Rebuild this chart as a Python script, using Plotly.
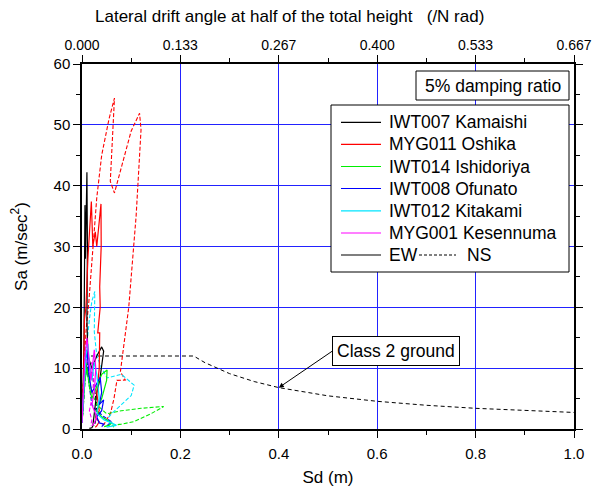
import plotly.graph_objects as go

# ---------------- data ----------------
stations = ["IWT007 Kamaishi", "MYG011 Oshika", "IWT014 Ishidoriya",
            "IWT008 Ofunato", "IWT012 Kitakami", "MYG001 Kesennuma"]
colors = ["#000000", "#ff0000", "#00ee00", "#0000ff", "#00e5ff", "#ff00ff"]

# EW components (Sd [m], Sa [m/s2])
iwt007_ew_sd = [0.0, 0.002, 0.004, 0.005, 0.006, 0.007, 0.009, 0.010, 0.011, 0.010, 0.012, 0.020, 0.030, 0.040, 0.044, 0.036, 0.030, 0.025, 0.022, 0.020, 0.015]
iwt007_ew_sa = [1.5, 6.0, 14.0, 25.0, 36.8, 28.0, 38.0, 42.2, 30.0, 18.0, 12.0, 10.0, 12.0, 13.5, 12.8, 8.0, 6.0, 2.0, 0.5, 0.2, 0.1]
iwt007_ns_sd = [0.0, 0.003, 0.006, 0.010, 0.015, 0.020, 0.025, 0.030, 0.028, 0.025]
iwt007_ns_sa = [1.0, 5.0, 9.0, 11.0, 8.0, 9.5, 7.0, 4.0, 1.5, 0.5]

myg011_ew_sd = [0.0, 0.003, 0.005, 0.008, 0.012, 0.015, 0.019, 0.022, 0.027, 0.030, 0.035, 0.0386, 0.039, 0.036, 0.037, 0.032, 0.036, 0.035, 0.030, 0.035, 0.028, 0.035, 0.030, 0.027]
myg011_ew_sa = [2.0, 8.0, 18.0, 20.0, 28.0, 32.0, 37.4, 30.0, 32.4, 30.0, 34.0, 37.0, 30.0, 23.4, 20.0, 15.8, 15.8, 10.0, 5.9, 3.0, 1.8, 1.2, 0.5, 0.3]
myg011_ns_sd = [0.0, 0.004, 0.008, 0.014, 0.020, 0.030, 0.040, 0.055, 0.066, 0.062, 0.0575, 0.066, 0.080, 0.100, 0.117, 0.120, 0.110, 0.095, 0.078, 0.088, 0.071, 0.065, 0.058, 0.050, 0.045, 0.040]
myg011_ns_sa = [3.0, 10.0, 16.0, 21.0, 28.0, 38.0, 45.0, 51.0, 54.4, 48.0, 40.7, 38.8, 43.0, 49.0, 51.9, 49.2, 35.0, 20.0, 9.4, 8.05, 8.0, 5.0, 2.6, 1.5, 0.8, 0.6]

iwt014_ew_sd = [0.0, 0.003, 0.006, 0.010, 0.015, 0.020, 0.030, 0.040, 0.051, 0.050, 0.040, 0.030, 0.040, 0.050, 0.060, 0.055, 0.045]
iwt014_ew_sa = [1.0, 4.0, 8.0, 10.0, 7.0, 5.0, 7.0, 9.0, 9.7, 8.0, 5.0, 3.0, 2.0, 1.5, 1.0, 0.6, 0.4]
iwt014_ns_sd = [0.0, 0.004, 0.008, 0.012, 0.020, 0.030, 0.050, 0.080, 0.120, 0.166, 0.140, 0.105, 0.080, 0.060, 0.065]
iwt014_ns_sa = [1.0, 5.0, 11.0, 9.0, 6.0, 4.0, 2.5, 3.0, 3.4, 3.7, 2.5, 1.2, 0.8, 0.6, 0.3]

iwt008_ew_sd = [0.0, 0.003, 0.006, 0.010, 0.014, 0.020, 0.030, 0.037, 0.040, 0.035, 0.044, 0.040, 0.030, 0.035, 0.045, 0.040]
iwt008_ew_sa = [1.0, 6.0, 11.0, 13.0, 9.0, 6.0, 7.5, 8.5, 6.0, 4.0, 4.8, 3.0, 2.0, 1.0, 0.8, 0.4]
iwt008_ns_sd = [0.0, 0.003, 0.006, 0.010, 0.015, 0.020, 0.030, 0.045, 0.060, 0.050]
iwt008_ns_sa = [1.0, 5.0, 8.0, 10.0, 7.0, 4.0, 3.0, 2.0, 1.2, 0.5]

iwt012_ew_sd = [0.0, 0.004, 0.008, 0.012, 0.016, 0.020, 0.025, 0.030, 0.035, 0.030, 0.045, 0.060, 0.070, 0.050]
iwt012_ew_sa = [1.0, 6.0, 12.0, 14.0, 10.0, 8.0, 11.0, 9.0, 5.0, 2.5, 1.5, 1.0, 0.6, 0.3]
iwt012_ns_sd = [0.0, 0.005, 0.010, 0.015, 0.020, 0.026, 0.025, 0.030, 0.040, 0.051, 0.080, 0.106, 0.100, 0.080, 0.060, 0.050, 0.060, 0.050]
iwt012_ns_sa = [1.5, 8.0, 14.0, 18.0, 21.0, 22.6, 16.0, 12.0, 10.0, 8.4, 9.0, 7.2, 5.5, 4.0, 2.5, 1.5, 1.0, 0.5]

myg001_ew_sd = [0.0, 0.003, 0.006, 0.010, 0.014, 0.018, 0.025, 0.028, 0.025, 0.020, 0.025, 0.030, 0.025, 0.020]
myg001_ew_sa = [1.0, 7.0, 12.0, 15.0, 11.0, 8.0, 13.0, 10.0, 6.0, 4.0, 3.0, 2.0, 1.0, 0.5]
myg001_ns_sd = [0.0, 0.003, 0.007, 0.012, 0.016, 0.020, 0.024, 0.020, 0.015, 0.020, 0.018]
myg001_ns_sa = [1.0, 5.0, 10.0, 13.0, 9.0, 11.0, 8.0, 5.0, 3.0, 1.5, 0.6]

# design spectrum, class 2 ground
class2_sd = [0.0, 0.008, 0.227, 0.25, 0.30, 0.35, 0.40, 0.50, 0.60, 0.70, 0.80, 0.90, 1.00]
class2_sa = [4.8, 12.0, 12.0, 10.9, 9.1, 7.8, 6.8, 5.45, 4.55, 3.9, 3.4, 3.0, 2.72]

sd_tickvals = [0.0, 0.2, 0.4, 0.6, 0.8, 1.0]
sd_ticktext = ["0.0", "0.2", "0.4", "0.6", "0.8", "1.0"]
drift_tickvals = [0.0, 0.1333, 0.2667, 0.4, 0.5333, 0.6667]
drift_ticktext = ["0.000", "0.133", "0.267", "0.400", "0.533", "0.667"]
sa_tickvals = [0, 10, 20, 30, 40, 50, 60]

ew = [(iwt007_ew_sd, iwt007_ew_sa), (myg011_ew_sd, myg011_ew_sa), (iwt014_ew_sd, iwt014_ew_sa),
      (iwt008_ew_sd, iwt008_ew_sa), (iwt012_ew_sd, iwt012_ew_sa), (myg001_ew_sd, myg001_ew_sa)]
ns = [(iwt007_ns_sd, iwt007_ns_sa), (myg011_ns_sd, myg011_ns_sa), (iwt014_ns_sd, iwt014_ns_sa),
      (iwt008_ns_sd, iwt008_ns_sa), (iwt012_ns_sd, iwt012_ns_sa), (myg001_ns_sd, myg001_ns_sa)]

FONT = "Liberation Sans, Arial, sans-serif"
fig = go.Figure()

fig.add_trace(go.Scatter(x=class2_sd, y=class2_sa, mode="lines",
                         line=dict(color="black", width=1, dash="4px,3px"), showlegend=False))
for (sd, sa), c in zip(ns, colors):
    fig.add_trace(go.Scatter(x=sd, y=sa, mode="lines", line=dict(color=c, width=1.1, dash="4px,2px"),
                             showlegend=False))
for (sd, sa), c in zip(ew, colors):
    fig.add_trace(go.Scatter(x=sd, y=sa, mode="lines", line=dict(color=c, width=1.2),
                             showlegend=False))
# carrier for the top (drift angle) axis
fig.add_trace(go.Scatter(x=[0], y=[0], xaxis="x2", yaxis="y", mode="markers",
                         marker=dict(opacity=0), hoverinfo="skip", showlegend=False))

GRID = "#2222ff"
fig.update_layout(
    width=592, height=488,
    margin=dict(l=82, r=18, t=64, b=59),
    paper_bgcolor="white", plot_bgcolor="white",
    font=dict(family=FONT, size=15, color="black"),
    xaxis=dict(range=[0, 1], tickvals=sd_tickvals, ticktext=sd_ticktext, automargin=False,
               showgrid=True, gridcolor=GRID, gridwidth=1, zeroline=False,
               showline=True, linecolor="black", linewidth=1.5,
               ticks="outside", ticklen=7, tickwidth=1.2, tickcolor="black",
               ticklabelstandoff=3, tickfont=dict(size=15),
               minor=dict(ticks="outside", ticklen=4, dtick=0.1, tick0=0, showgrid=False, tickcolor="black"),
               title=dict(text="Sd (m)", font=dict(size=17), standoff=10)),
    xaxis2=dict(range=[0, 2 / 3], overlaying="x", side="top", anchor="y", automargin=False,
                tickvals=drift_tickvals, ticktext=drift_ticktext, showgrid=False, zeroline=False,
                showline=True, linecolor="black", linewidth=1.5, tickfont=dict(size=14),
                ticks="outside", ticklen=7, tickwidth=1.2, tickcolor="black",
                minor=dict(ticks="outside", ticklen=4, dtick=2 / 30, tick0=0, showgrid=False, tickcolor="black")),
    yaxis=dict(range=[0, 60], tickvals=sa_tickvals, showgrid=True, gridcolor=GRID, gridwidth=1,
               automargin=False,
               zeroline=False, showline=True, linecolor="black", linewidth=1.5, mirror="ticks",
               ticks="outside", ticklen=7, tickwidth=1.2, tickcolor="black", tickfont=dict(size=15),
               minor=dict(ticks="outside", ticklen=4, dtick=5, tick0=0, showgrid=False, tickcolor="black"),
               title=dict(text="Sa (m/sec<sup>2</sup>)", font=dict(size=17), standoff=22)),
)

def px2paper_x(px):
    return (px - 82) / 492.0

def px2paper_y(py):
    return (429 - py) / 365.0

shapes = []
annotations = []
FS = 17.5

# top title
annotations.append(dict(x=px2paper_x(289), y=px2paper_y(16), xref="paper", yref="paper",
                        text="Lateral drift angle at half of the total height\u00a0\u00a0\u00a0(/N rad)",
                        showarrow=False, font=dict(size=17), xanchor="center", yanchor="middle"))

# 5% damping ratio box
shapes.append(dict(type="rect", xref="paper", yref="paper", x0=px2paper_x(416), x1=px2paper_x(569),
                   y0=px2paper_y(71), y1=px2paper_y(100), line=dict(color="black", width=1),
                   fillcolor="white", layer="above"))
annotations.append(dict(x=px2paper_x(492.5), y=px2paper_y(85.5), xref="paper", yref="paper",
                        text="5% damping ratio", showarrow=False, font=dict(size=FS),
                        xanchor="center", yanchor="middle"))

# legend box
shapes.append(dict(type="rect", xref="paper", yref="paper", x0=px2paper_x(331), x1=px2paper_x(569),
                   y0=px2paper_y(105), y1=px2paper_y(272), line=dict(color="black", width=1),
                   fillcolor="white", layer="above"))
rows = [122.3, 144.3, 166.5, 188.5, 210.8, 233, 255]
for name, c, ry in zip(stations, colors, rows):
    shapes.append(dict(type="line", xref="paper", yref="paper", x0=px2paper_x(341), x1=px2paper_x(381),
                       y0=px2paper_y(ry), y1=px2paper_y(ry), line=dict(color=c, width=1.2), layer="above"))
    annotations.append(dict(x=px2paper_x(387), y=px2paper_y(ry), xref="paper", yref="paper", text=name,
                            showarrow=False, font=dict(size=FS), xanchor="left", yanchor="middle"))
ry = rows[-1]
shapes.append(dict(type="line", xref="paper", yref="paper", x0=px2paper_x(341), x1=px2paper_x(381),
                   y0=px2paper_y(ry), y1=px2paper_y(ry), line=dict(color="black", width=1.2), layer="above"))
annotations.append(dict(x=px2paper_x(387), y=px2paper_y(ry), xref="paper", yref="paper", text="EW",
                        showarrow=False, font=dict(size=FS), xanchor="left", yanchor="middle"))
shapes.append(dict(type="line", xref="paper", yref="paper", x0=px2paper_x(419), x1=px2paper_x(456),
                   y0=px2paper_y(ry), y1=px2paper_y(ry), line=dict(color="black", width=1, dash="3px,2px"),
                   layer="above"))
annotations.append(dict(x=px2paper_x(465), y=px2paper_y(ry), xref="paper", yref="paper", text="NS",
                        showarrow=False, font=dict(size=FS), xanchor="left", yanchor="middle"))

# class 2 ground callout
annotations.append(dict(x=0.4, y=6.8, xref="x", yref="y", ax=0.5087, ay=12.8, axref="x", ayref="y",
                        text="Class 2 ground", showarrow=True, arrowhead=2, arrowsize=1, arrowwidth=1,
                        arrowcolor="black", font=dict(size=FS), xanchor="left", yanchor="middle",
                        bordercolor="black", borderwidth=1, borderpad=4, bgcolor="white"))

fig.update_layout(shapes=shapes, annotations=annotations)
fig.write_html("out.html")
